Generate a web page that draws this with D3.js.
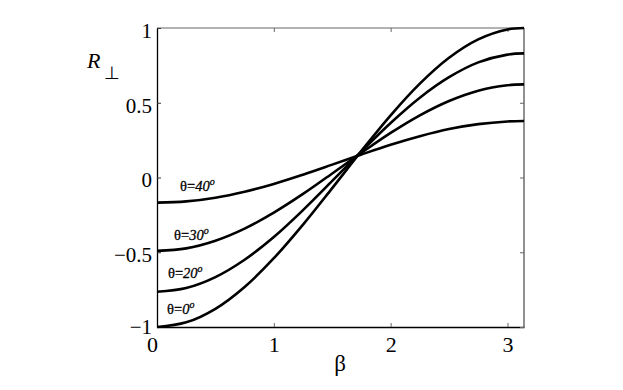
<!DOCTYPE html>
<html>
<head>
<meta charset="utf-8">
<script src="https://cdn.jsdelivr.net/npm/d3@7"></script>
<style>
  body { margin: 0; background: #fff; }
  svg text { font-family: "Liberation Serif", Tinos, "Times New Roman", Times, serif; }
</style>
</head>
<body>
<svg id="drawing_region"></svg>
<script>
// beta values (x) and R_perp for each theta
const beta = [0, 0.25, 0.5, 0.75, 1, 1.25, 1.5, 1.75, 2, 2.25, 2.5, 2.75, 3, 3.1416];
const r0  = [-1, -0.969, -0.878, -0.732, -0.540, -0.315, -0.071, 0.178, 0.416, 0.628, 0.801, 0.924, 0.990, 1.0];
const r20 = [-0.764, -0.739, -0.666, -0.550, -0.398, -0.218, -0.023, 0.175, 0.365, 0.534, 0.671, 0.770, 0.822, 0.830];
const r30 = [-0.491, -0.474, -0.423, -0.342, -0.235, -0.110, 0.027, 0.165, 0.298, 0.416, 0.512, 0.581, 0.617, 0.623];
const r40 = [-0.168, -0.160, -0.135, -0.095, -0.043, 0.019, 0.086, 0.154, 0.219, 0.276, 0.324, 0.357, 0.375, 0.378];
const thetas = ["0", "20", "30", "40"];
const xTicks = [0, 1, 2, 3];
const yTicks = [-1, -0.5, 0, 0.5, 1];

const config = { width: 623, height: 390, left: 157, right: 524, top: 28, bottom: 327 };

const svg = d3.select('#drawing_region')
    .attr('width', config.width)
    .attr('height', config.height);

const xScale = d3.scaleLinear().domain([0, Math.PI]).range([config.left, config.right]);
const yScale = d3.scaleLinear().domain([-1, 1]).range([config.bottom, config.top]);

const fmt = d => d === 0 ? "0" : String(d).replace("-", "\u2212");

// axes box
svg.append('line')
    .attr('x1', config.left).attr('x2', config.right)
    .attr('y1', config.top).attr('y2', config.top)
    .attr('stroke', '#999').attr('stroke-width', 1.3);
svg.append('line')
    .attr('x1', config.right).attr('x2', config.right)
    .attr('y1', config.top).attr('y2', config.bottom)
    .attr('stroke', '#555').attr('stroke-width', 1.3);

// bottom axis with ticks inside
const xAxis = svg.append('g')
    .attr('transform', `translate(0,${config.bottom})`)
    .call(d3.axisBottom(xScale).tickValues(xTicks).tickSizeInner(-4).tickSizeOuter(0).tickFormat(fmt));
xAxis.attr('font-family', null);
xAxis.select('.domain').attr('stroke', '#000').attr('stroke-width', 1.3);
xAxis.selectAll('.tick line').attr('stroke', '#666');
xAxis.selectAll('.tick text')
    .attr('y', 25).attr('dy', 0)
    .attr('x', d => d === 0 ? -5 : 0)
    .attr('font-size', 22);

// top ticks
svg.append('g')
    .attr('transform', `translate(0,${config.top})`)
    .call(d3.axisTop(xScale).tickValues(xTicks).tickSizeInner(-4).tickSizeOuter(0).tickFormat(''))
    .call(g => g.select('.domain').remove())
    .call(g => g.selectAll('.tick line').attr('stroke', '#666'));

// left axis
const yAxis = svg.append('g')
    .attr('transform', `translate(${config.left},0)`)
    .call(d3.axisLeft(yScale).tickValues(yTicks).tickSizeInner(-4).tickSizeOuter(0).tickFormat(fmt));
yAxis.attr('font-family', null);
yAxis.select('.domain').attr('stroke', '#000').attr('stroke-width', 1.3);
yAxis.selectAll('.tick line').attr('stroke', '#333');
yAxis.selectAll('.tick text')
    .attr('x', -5).attr('dy', d => d === -1 ? '0.3em' : '0.45em')
    .attr('font-size', 21);

// right ticks
svg.append('g')
    .attr('transform', `translate(${config.right},0)`)
    .call(d3.axisRight(yScale).tickValues(yTicks).tickSizeInner(-4).tickSizeOuter(0).tickFormat(''))
    .call(g => g.select('.domain').remove())
    .call(g => g.selectAll('.tick line').attr('stroke', '#666'));

// curves
const line = d3.line()
    .x(d => xScale(d[0]))
    .y(d => yScale(d[1]))
    .curve(d3.curveCatmullRom.alpha(0.5));

const series = [r0, r20, r30, r40];
svg.append('g').selectAll('path')
    .data(series)
    .enter()
    .append('path')
    .attr('d', s => line(beta.map((b, i) => [b, s[i]])))
    .attr('stroke', 'black')
    .attr('stroke-width', 2.6)
    .attr('fill', 'none');

// curve labels (anchor in data coordinates); white halo layer first, then text
const labelPos = [[0.086, -0.913], [0.094, -0.672], [0.146, -0.418], [0.197, -0.088]];
function addLabels(halo) {
    const t = svg.append('g').selectAll('text')
        .data(thetas)
        .enter()
        .append('text')
        .attr('x', (d, i) => xScale(labelPos[i][0]))
        .attr('y', (d, i) => yScale(labelPos[i][1]))
        .attr('font-size', 14.5)
        .attr('fill', halo ? 'white' : 'black')
        .attr('stroke', halo ? 'white' : 'black')
        .attr('stroke-width', halo ? 5 : 0.3)
        .attr('stroke-linejoin', 'round');
    t.append('tspan').text('\u03b8=');
    t.append('tspan').attr('font-style', 'italic').text(d => d);
    t.append('tspan').attr('font-style', 'italic').attr('font-size', 10).attr('dy', -6).text('o');
}
addLabels(true);
addLabels(false);

// axis titles
svg.append('text')
    .attr('x', 340).attr('y', 371)
    .attr('text-anchor', 'middle')
    .attr('font-size', 23)
    .text('\u03b2');

const rLabel = svg.append('text')
    .attr('x', 87).attr('y', 68)
    .attr('font-size', 22);
rLabel.append('tspan').attr('font-style', 'italic').text('R');
rLabel.append('tspan').attr('dx', 4).attr('dy', 11).attr('font-size', 18).text('\u22a5');
</script>
</body>
</html>
